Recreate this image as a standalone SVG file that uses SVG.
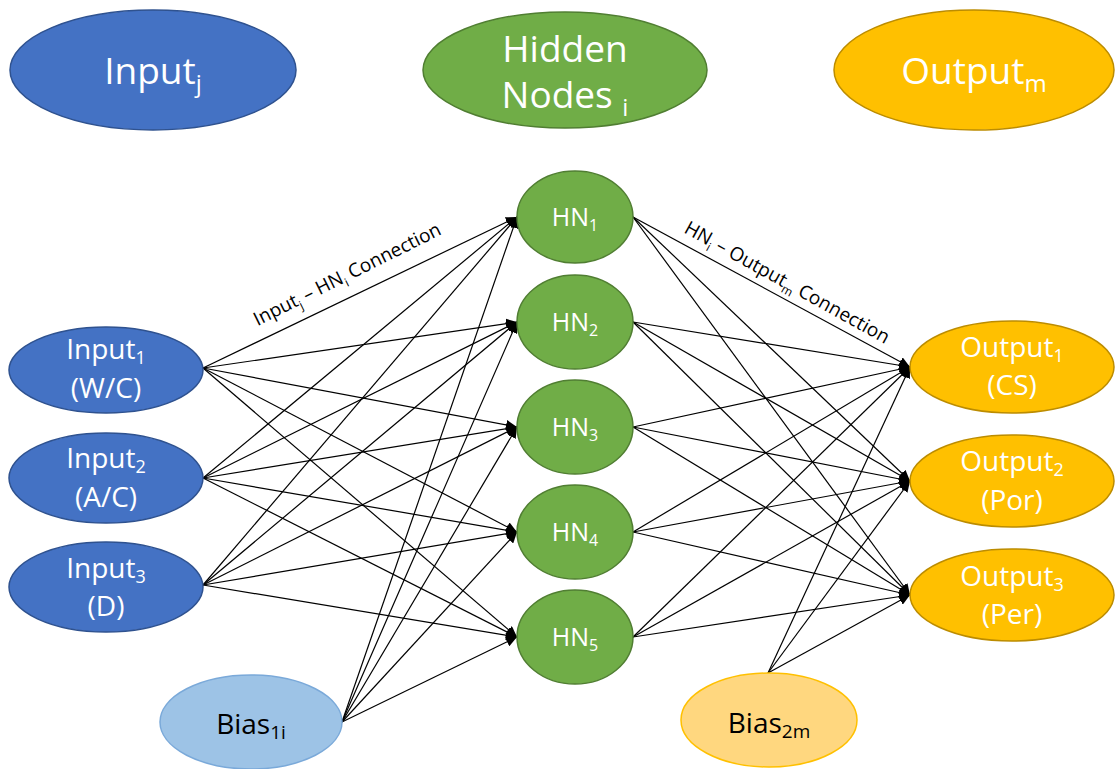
<svg xmlns="http://www.w3.org/2000/svg" width="1115" height="769" viewBox="0 0 1115 769">
<defs>
<marker id="ah" markerUnits="userSpaceOnUse" markerWidth="12" markerHeight="10" refX="11" refY="5" orient="auto">
<path d="M0,0 L11,5 L0,10 z" fill="#000"/>
</marker>
<style>
text{font-family:"Open Sans","Liberation Sans",sans-serif;text-anchor:middle}
.in{fill:#4472C4;stroke:#2F528F;stroke-width:1.5}
.hn{fill:#70AD47;stroke:#507E32;stroke-width:1.5}
.out{fill:#FFC000;stroke:#BC8C00;stroke-width:1.5}
.b1{fill:#9DC3E6;stroke:#7AA9D9;stroke-width:1.5}
.b2{fill:#FFD77F;stroke:#FFC000;stroke-width:1.5}
.wt{fill:#fff}
.big{font-size:37px}
.mid{font-size:28px}
.hnt{font-size:25px}
.bt{fill:#000;font-size:28px}
.lbl{fill:#000;font-size:19px}
#connectors line{stroke:#000;stroke-width:1.2;marker-end:url(#ah)}
</style>
</defs>
<rect width="1115" height="769" fill="#fff"/>

<g id="title-input"><ellipse class="in" cx="153" cy="70" rx="143" ry="60"/><text class="wt big" x="153" y="84">Input<tspan font-size="24" dy="8">j</tspan></text></g>
<g id="title-hidden"><ellipse class="hn" cx="565" cy="70" rx="142" ry="58"/><text class="wt big" x="565" y="62">Hidden</text><text class="wt big" x="565" y="108">Nodes <tspan font-size="24" dy="8">i</tspan></text></g>
<g id="title-output"><ellipse class="out" cx="974" cy="70" rx="140" ry="60"/><text class="wt big" x="974" y="84">Output<tspan font-size="24" dy="8">m</tspan></text></g>

<g id="connectors">
<line x1="203" y1="368" x2="517" y2="217"/><line x1="203" y1="368" x2="517" y2="322"/><line x1="203" y1="368" x2="517" y2="427"/><line x1="203" y1="368" x2="517" y2="532"/><line x1="203" y1="368" x2="517" y2="637"/>
<line x1="203" y1="478" x2="517" y2="217"/><line x1="203" y1="478" x2="517" y2="322"/><line x1="203" y1="478" x2="517" y2="427"/><line x1="203" y1="478" x2="517" y2="532"/><line x1="203" y1="478" x2="517" y2="637"/>
<line x1="203" y1="585" x2="517" y2="217"/><line x1="203" y1="585" x2="517" y2="322"/><line x1="203" y1="585" x2="517" y2="427"/><line x1="203" y1="585" x2="517" y2="532"/><line x1="203" y1="585" x2="517" y2="637"/>
<line x1="342" y1="722" x2="517" y2="217"/><line x1="342" y1="722" x2="517" y2="322"/><line x1="342" y1="722" x2="517" y2="427"/><line x1="342" y1="722" x2="517" y2="532"/><line x1="342" y1="722" x2="517" y2="637"/>
<line x1="633" y1="217" x2="910" y2="367"/><line x1="633" y1="217" x2="910" y2="481"/><line x1="633" y1="217" x2="910" y2="595"/>
<line x1="633" y1="322" x2="910" y2="367"/><line x1="633" y1="322" x2="910" y2="481"/><line x1="633" y1="322" x2="910" y2="595"/>
<line x1="633" y1="427" x2="910" y2="367"/><line x1="633" y1="427" x2="910" y2="481"/><line x1="633" y1="427" x2="910" y2="595"/>
<line x1="633" y1="532" x2="910" y2="367"/><line x1="633" y1="532" x2="910" y2="481"/><line x1="633" y1="532" x2="910" y2="595"/>
<line x1="633" y1="637" x2="910" y2="367"/><line x1="633" y1="637" x2="910" y2="481"/><line x1="633" y1="637" x2="910" y2="595"/>
<line x1="768" y1="673" x2="910" y2="367"/><line x1="768" y1="673" x2="910" y2="481"/><line x1="768" y1="673" x2="910" y2="595"/>
<text class="lbl" transform="translate(350,280) rotate(-26.5)">Input<tspan font-size="12" dy="5">j</tspan><tspan dy="-5"> – HN</tspan><tspan font-size="12" dy="5">i</tspan><tspan dy="-5"> Connection</tspan></text>
<text class="lbl" transform="translate(784,288) rotate(29)">HN<tspan font-size="12" dy="5">i</tspan><tspan dy="-5"> – Output</tspan><tspan font-size="12" dy="5">m</tspan><tspan dy="-5"> Connection</tspan></text>
</g>

<g id="input1"><ellipse class="in" cx="106" cy="370" rx="97" ry="43"/><text class="wt mid" x="106" y="359">Input<tspan font-size="18" dy="5">1</tspan></text><text class="wt mid" x="106" y="398">(W/C)</text></g>
<g id="input2"><ellipse class="in" cx="106" cy="478" rx="97" ry="45"/><text class="wt mid" x="106" y="468">Input<tspan font-size="18" dy="5">2</tspan></text><text class="wt mid" x="106" y="507">(A/C)</text></g>
<g id="input3"><ellipse class="in" cx="106" cy="587" rx="97" ry="45"/><text class="wt mid" x="106" y="578">Input<tspan font-size="18" dy="5">3</tspan></text><text class="wt mid" x="106" y="616">(D)</text></g>

<g id="hn1"><ellipse class="hn" cx="575" cy="217" rx="58" ry="46"/><text class="wt hnt" x="575" y="226">HN<tspan font-size="16" dy="5">1</tspan></text></g>
<g id="hn2"><ellipse class="hn" cx="575" cy="322" rx="58" ry="47"/><text class="wt hnt" x="575" y="331">HN<tspan font-size="16" dy="5">2</tspan></text></g>
<g id="hn3"><ellipse class="hn" cx="575" cy="427" rx="58" ry="47"/><text class="wt hnt" x="575" y="436">HN<tspan font-size="16" dy="5">3</tspan></text></g>
<g id="hn4"><ellipse class="hn" cx="575" cy="532" rx="58" ry="47"/><text class="wt hnt" x="575" y="541">HN<tspan font-size="16" dy="5">4</tspan></text></g>
<g id="hn5"><ellipse class="hn" cx="575" cy="637" rx="58" ry="47"/><text class="wt hnt" x="575" y="646">HN<tspan font-size="16" dy="5">5</tspan></text></g>

<g id="output1"><ellipse class="out" cx="1012" cy="367" rx="102" ry="46"/><text class="wt mid" x="1012" y="357">Output<tspan font-size="18" dy="5">1</tspan></text><text class="wt mid" x="1012" y="395">(CS)</text></g>
<g id="output2"><ellipse class="out" cx="1012" cy="481" rx="102" ry="46"/><text class="wt mid" x="1012" y="471">Output<tspan font-size="18" dy="5">2</tspan></text><text class="wt mid" x="1012" y="510">(Por)</text></g>
<g id="output3"><ellipse class="out" cx="1012" cy="595" rx="102" ry="46"/><text class="wt mid" x="1012" y="586">Output<tspan font-size="18" dy="5">3</tspan></text><text class="wt mid" x="1012" y="624">(Per)</text></g>

<g id="bias1"><ellipse class="b1" cx="251" cy="722" rx="91" ry="47"/><text class="bt" x="251" y="734">Bias<tspan font-size="19" dy="5">1i</tspan></text></g>
<g id="bias2"><ellipse class="b2" cx="769" cy="720" rx="88" ry="47"/><text class="bt" x="769" y="733">Bias<tspan font-size="19" dy="5">2m</tspan></text></g>
</svg>
